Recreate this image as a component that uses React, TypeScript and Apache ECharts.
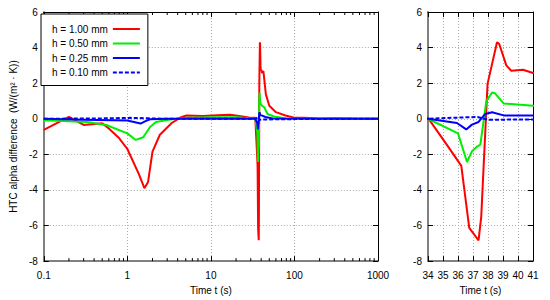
import React, { useEffect, useRef } from "react";
import * as echarts from "echarts";

// h = 1.00 mm
const T_RED = [0.1, 0.2, 0.3, 0.5, 0.6, 0.8, 1.0, 1.37, 1.6, 1.77, 2.0, 2.45, 3.4, 4.4, 5.1, 8, 12, 17, 25, 30, 34, 35.33, 36.22, 36.75, 37.37, 37.55, 37.97, 38.6, 38.75, 39.22, 39.55, 40.33, 41, 42.5, 45.5, 50, 60, 78, 102, 130, 200, 300, 500, 1000];
const V_RED = [-0.62, 0.1, -0.35, -0.25, -0.55, -1.1, -1.7, -3.1, -3.9, -3.55, -1.85, -0.9, -0.24, 0.09, 0.18, 0.15, 0.2, 0.22, 0.12, 0.05, 0.05, -1.55, -2.65, -6.13, -6.83, -5.5, 1.96, 4.3, 4.2, 3.0, 2.7, 2.75, 2.57, 2.68, 1.37, 0.73, 0.37, 0.18, 0.05, 0.05, 0.02, 0.03, 0.01, 0.0];

// h = 0.50 mm
const T_GREEN = [0.1, 0.33, 0.56, 1.0, 1.26, 1.55, 1.87, 2.2, 3.1, 5, 10, 20, 30, 34, 36.0, 36.6, 36.93, 37.3, 37.49, 37.89, 38.27, 38.44, 39.04, 41, 43.6, 47.6, 57, 80, 1000];
const V_GREEN = [-0.09, -0.18, -0.35, -0.82, -1.19, -1.04, -0.46, -0.18, -0.05, 0.05, 0.08, 0.08, 0.03, 0.0, -0.82, -2.43, -1.83, -1.55, -1.46, 1.0, 1.47, 1.45, 0.86, 0.73, 0.64, 0.27, 0.13, 0.02, 0.0];

// h = 0.25 mm
const T_BLUE = [0.1, 0.3, 1.0, 1.44, 1.65, 1.87, 3, 34, 35.93, 36.55, 36.93, 37.37, 37.82, 38.27, 39.04, 41, 45, 55, 1000];
const V_BLUE = [0, -0.05, -0.1, -0.27, -0.13, -0.03, 0, 0, -0.24, -0.6, -0.33, -0.18, 0.27, 0.37, 0.19, 0.18, 0.1, 0.02, 0];

// h = 0.10 mm
const T_DASH = [0.1, 0.5, 1.1, 2, 3, 34, 36.5, 37.3, 38, 39, 41, 100, 1000];
const V_DASH = [0, 0.02, 0.05, 0.02, 0, 0, 0.08, 0.1, -0.05, -0.05, -0.04, -0.02, 0];

const NAMES = ["h = 1.00 mm", "h = 0.50 mm", "h = 0.25 mm", "h = 0.10 mm"];
const X_LOG_LABELS = ["0.1", "1", "10", "100", "1000"];
const MINOR_TICKS = [0.2, 0.3, 0.4, 0.5, 0.6, 0.7, 0.8, 0.9, 2, 3, 4, 5, 6, 7, 8, 9, 20, 30, 40, 50, 60, 70, 80, 90, 200, 300, 400, 500, 600, 700, 800, 900];

const FONT = "Liberation Sans, Arial, sans-serif";

function zip(t: number[], v: number[]) {
  return t.map((x, i) => [x, v[i]]);
}

export default function App() {
  const ref = useRef<HTMLDivElement>(null);
  useEffect(() => {
    if (!ref.current) return;
    const chart = echarts.init(ref.current, undefined, { renderer: "svg" });
    const curves = [
      { name: NAMES[0], data: zip(T_RED, V_RED), color: "#ff0000", type: "solid" },
      { name: NAMES[1], data: zip(T_GREEN, V_GREEN), color: "#00ee00", type: "solid" },
      { name: NAMES[2], data: zip(T_BLUE, V_BLUE), color: "#0000ff", type: "solid" },
      { name: NAMES[3], data: zip(T_DASH, V_DASH), color: "#0000ff", type: [4, 2] },
    ];
    const gridLine = { show: true, lineStyle: { color: "#aaaaaa", type: [1, 2], width: 1 } };
    const mainLine = { show: true, onZero: false, lineStyle: { color: "#808080", width: 2 } };
    const mirrorLine = { show: true, onZero: false, lineStyle: { color: "#000", width: 1 } };
    const tick = { show: true, inside: true, length: 5, lineStyle: { color: "#000", width: 1 } };
    const yLabel = { color: "#000", fontSize: 10, fontFamily: FONT, margin: 6 };
    const xLabel = { color: "#000", fontSize: 10, fontFamily: FONT, margin: 9 };
    const nameStyle = { color: "#000", fontSize: 10, fontFamily: FONT };

    const yBase = { type: "value", min: -8, max: 6, interval: 2 };

    const series: any[] = [];
    [0, 1].forEach((g) => {
      curves.forEach((c) => {
        series.push({
          type: "line",
          name: c.name,
          xAxisIndex: g === 0 ? 0 : 2,
          yAxisIndex: g === 0 ? 0 : 2,
          data: c.data,
          showSymbol: false,
          symbol: "none",
          clip: true,
          lineStyle: { color: c.color, width: 2, type: c.type },
          itemStyle: { color: c.color },
        });
      });
    });
    series.push({
      type: "custom",
      xAxisIndex: 0,
      yAxisIndex: 0,
      silent: true,
      clip: false,
      data: MINOR_TICKS.map((t) => [t, 0]),
      renderItem: (params: any, api: any) => {
        const t = api.value(0);
        const b = api.coord([t, -8]);
        const top = api.coord([t, 6]);
        const style = { stroke: "#000", lineWidth: 1 };
        return {
          type: "group",
          children: [
            { type: "line", shape: { x1: b[0], y1: b[1], x2: b[0], y2: b[1] - 3 }, style },
            { type: "line", shape: { x1: top[0], y1: top[1], x2: top[0], y2: top[1] + 3 }, style },
          ],
        };
      },
    });

    const logFmt = (v: number) => {
      const i = Math.round(Math.log10(v)) + 1;
      return X_LOG_LABELS[i] ?? String(v);
    };

    chart.setOption({
      animation: false,
      textStyle: { fontFamily: FONT },
      grid: [
        { left: 36, top: 12, width: 342, height: 256 },
        { left: 428, top: 12, width: 105, height: 256 },
      ],
      legend: {
        data: NAMES,
        left: 41,
        top: 14,
        orient: "vertical",
        align: "right",
        itemWidth: 27,
        itemHeight: 10,
        itemGap: 4.5,
        padding: [10, 7, 8, 11],
        borderColor: "#000",
        borderWidth: 1,
        backgroundColor: "#fff",
        itemStyle: { opacity: 0, borderWidth: 0 },
        textStyle: { color: "#000", fontSize: 10, fontFamily: FONT },
        selectedMode: false,
      },
      xAxis: [
        {
          type: "log", logBase: 10, gridIndex: 0, min: 0.1, max: 1000, splitNumber: 4,
          axisLine: mainLine, axisTick: tick, splitLine: gridLine,
          axisLabel: { ...xLabel, formatter: logFmt },
          name: "Time t (s)", nameLocation: "middle", nameGap: 22, nameTextStyle: nameStyle,
        },
        {
          type: "log", logBase: 10, gridIndex: 0, min: 0.1, max: 1000, splitNumber: 4, position: "top",
          axisLine: mirrorLine, axisTick: tick, axisLabel: { show: false }, splitLine: { show: false },
        },
        {
          type: "value", gridIndex: 1, min: 34, max: 41, interval: 1,
          axisLine: mainLine, axisTick: tick, splitLine: gridLine, axisLabel: xLabel,
          name: "Time t (s)", nameLocation: "middle", nameGap: 22, nameTextStyle: nameStyle,
        },
        {
          type: "value", gridIndex: 1, min: 34, max: 41, interval: 1, position: "top",
          axisLine: mirrorLine, axisTick: tick, axisLabel: { show: false }, splitLine: { show: false },
        },
      ],
      yAxis: [
        {
          ...yBase, gridIndex: 0, axisLine: mainLine, axisTick: tick, splitLine: gridLine, axisLabel: yLabel,
          name: "HTC alpha difference  (W/(m\u00B2 \u00B7 K))", nameLocation: "middle", nameGap: 22,
          nameTextStyle: nameStyle,
        },
        {
          ...yBase, gridIndex: 0, position: "right", axisLine: mirrorLine, axisTick: tick,
          axisLabel: { show: false }, splitLine: { show: false },
        },
        { ...yBase, gridIndex: 1, axisLine: mainLine, axisTick: tick, splitLine: gridLine, axisLabel: yLabel },
        {
          ...yBase, gridIndex: 1, position: "right", axisLine: mirrorLine, axisTick: tick,
          axisLabel: { show: false }, splitLine: { show: false },
        },
      ],
      series,
    });
    return () => chart.dispose();
  }, []);
  return (
    <div
      ref={ref}
      style={{ position: "fixed", left: 0, top: 0, width: 550, height: 300, background: "#fff" }}
    />
  );
}
